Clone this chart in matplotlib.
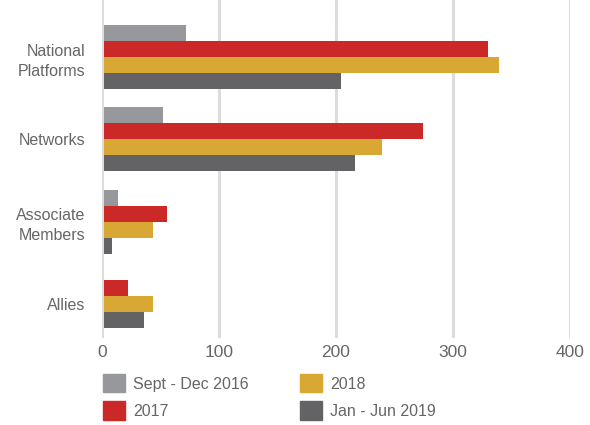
import matplotlib.pyplot as plt
import numpy as np
from matplotlib.patches import Patch

# Data (None = no bar)
categories = ["National\nPlatforms", "Networks", "Associate\nMembers", "Allies"]
series_names = ["Sept - Dec 2016", "2017", "2018", "Jan - Jun 2019"]
sept_dec_2016 = [70, 51, 12, None]
y2017 = [328, 273, 54, 21]
y2018 = [338, 238, 42, 42]
jan_jun_2019 = [203, 215, 7, 34]
colors = ["#97989b", "#cb2828", "#d9a834", "#636365"]

plt.rcParams['font.family'] = ['Liberation Sans', 'DejaVu Sans']
TEXT = '#666666'

fig = plt.figure(figsize=(5.9, 4.25), dpi=100)
ax = fig.add_axes([102 / 590, 1 - 338 / 425, (570 - 102) / 590, 338 / 425])

all_series = [sept_dec_2016, y2017, y2018, jan_jun_2019]
h = 0.195
for i in range(len(categories)):
    # bars of a group are centred on the ones that exist
    present = [k for k, s in enumerate(all_series) if s[i] is not None]
    n = len(present)
    for j, k in enumerate(present):
        off = (j - (n - 1) / 2) * h
        ax.barh(i + off, all_series[k][i], height=h, left=1.5,
                color=colors[k], zorder=3)

ax.set_xlim(0, 400)
ax.set_ylim(3.42, -0.70)
ax.set_xticks([0, 100, 200, 300, 400])
ax.set_yticks(np.arange(len(categories)))
ax.set_yticklabels(categories)
for lbl in ax.get_yticklabels():
    lbl.set_multialignment('right')
    lbl.set_linespacing(1.45)

ax.grid(axis='x', color='#dcdcdc', linewidth=2.2, zorder=0)
for s in ax.spines.values():
    s.set_visible(False)
ax.tick_params(axis='x', length=0, labelsize=12.5, colors=TEXT, pad=5)
ax.tick_params(axis='y', length=0, labelsize=11.5, colors=TEXT, pad=12)

handles = [Patch(color=c) for c in colors]
fig.legend(handles, series_names, ncol=2, loc='upper left',
           bbox_to_anchor=(103 / 590, 1 - 374 / 425), frameon=False,
           borderpad=0, borderaxespad=0,
           fontsize=11.5, handlelength=1.4, handleheight=1.4,
           columnspacing=3.2, handletextpad=0.5, labelspacing=0.55,
           labelcolor=TEXT)

fig.savefig("out.png", dpi=100)
